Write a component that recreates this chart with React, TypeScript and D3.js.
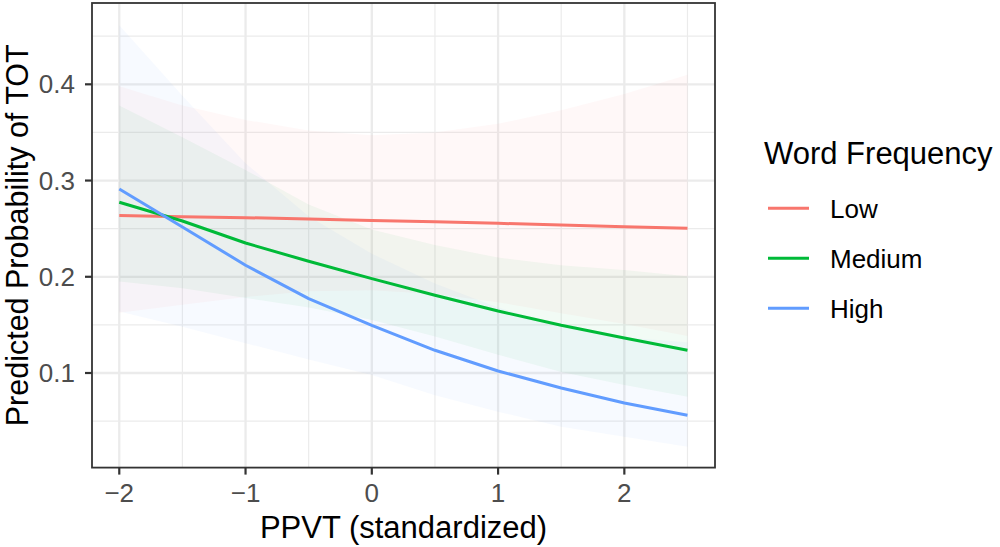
import React from "react";
import * as d3 from "d3";

// ---- data ----
const ppvt = [-2, -1.5, -1, -0.5, 0, 0.5, 1, 1.5, 2, 2.5];

const lowFit = [0.2636, 0.2625, 0.2614, 0.26, 0.2586, 0.2571, 0.2555, 0.2538, 0.2521, 0.2504];
const lowUpper = [0.398, 0.378, 0.363, 0.352, 0.347, 0.35, 0.359, 0.373, 0.39, 0.41];
const lowLower = [0.1625, 0.171, 0.179, 0.185, 0.186, 0.182, 0.1735, 0.162, 0.151, 0.1385];

const mediumFit = [0.2774, 0.258, 0.2351, 0.2161, 0.1981, 0.1808, 0.1644, 0.1496, 0.1364, 0.1236];
const mediumUpper = [0.378, 0.345, 0.311, 0.275, 0.249, 0.233, 0.22, 0.212, 0.207, 0.2005];
const mediumLower = [0.195, 0.188, 0.178, 0.168, 0.155, 0.138, 0.119, 0.101, 0.0875, 0.0754];

const highFit = [0.2913, 0.2518, 0.212, 0.1773, 0.1496, 0.1236, 0.1021, 0.0844, 0.0688, 0.056];
const highUpper = [0.4615, 0.388, 0.318, 0.263, 0.224, 0.193, 0.168, 0.149, 0.137, 0.132];
const highLower = [0.164, 0.148, 0.131, 0.114, 0.098, 0.077, 0.0598, 0.0442, 0.0338, 0.0234];

const groupNames = ["Low", "Medium", "High"];
const groupColors = ["#F8766D", "#00BA38", "#619CFF"];

const xTicks = [-2, -1, 0, 1, 2];
const xMinor = [-1.5, -0.5, 0.5, 1.5, 2.5];
const yTicks = [0.1, 0.2, 0.3, 0.4];
const yMinor = [0.05, 0.15, 0.25, 0.35, 0.45];

const xTitle = "PPVT (standardized)";
const yTitle = "Predicted Probability of TOT";
const legendTitle = "Word Frequency";

const series = [
  { name: groupNames[0], color: groupColors[0], fit: lowFit, upper: lowUpper, lower: lowLower },
  { name: groupNames[1], color: groupColors[1], fit: mediumFit, upper: mediumUpper, lower: mediumLower },
  { name: groupNames[2], color: groupColors[2], fit: highFit, upper: highUpper, lower: highLower },
];

const FONT = "'Liberation Sans', Arial, Helvetica, sans-serif";

export default function App() {
  const W = 1000;
  const H = 547;
  const panel = { left: 92, right: 715, top: 3, bottom: 467.6 };

  const x = d3.scaleLinear().domain([-2.216, 2.718]).range([panel.left, panel.right]);
  const y = d3.scaleLinear().domain([0.0017, 0.4845]).range([panel.bottom, panel.top]);

  const fmtX = (v: number) => (v < 0 ? "\u2212" + Math.abs(v) : String(v));

  return (
    <svg
      width={W}
      height={H}
      viewBox={`0 0 ${W} ${H}`}
      style={{ position: "absolute", left: 0, top: 0, display: "block" }}
    >
      <rect x={0} y={0} width={W} height={H} fill="#FFFFFF" />
      <defs>
        <clipPath id="panelClip">
          <rect x={panel.left} y={panel.top} width={panel.right - panel.left} height={panel.bottom - panel.top} />
        </clipPath>
      </defs>
      <g clipPath="url(#panelClip)">
        {/* minor grid */}
        {xMinor.map((v) => (
          <line key={"xm" + v} x1={x(v)} x2={x(v)} y1={panel.top} y2={panel.bottom} stroke="#EBEBEB" strokeWidth={1.2} />
        ))}
        {yMinor.map((v) => (
          <line key={"ym" + v} x1={panel.left} x2={panel.right} y1={y(v)} y2={y(v)} stroke="#EBEBEB" strokeWidth={1.2} />
        ))}
        {/* major grid */}
        {xTicks.map((v) => (
          <line key={"xM" + v} x1={x(v)} x2={x(v)} y1={panel.top} y2={panel.bottom} stroke="#EBEBEB" strokeWidth={2.3} />
        ))}
        {yTicks.map((v) => (
          <line key={"yM" + v} x1={panel.left} x2={panel.right} y1={y(v)} y2={y(v)} stroke="#EBEBEB" strokeWidth={2.3} />
        ))}
        {/* ribbons */}
        {series.map((s) => {
          const a = d3
            .area<number>()
            .x((_, i) => x(ppvt[i]))
            .y0((_, i) => y(s.lower[i]))
            .y1((_, i) => y(s.upper[i]));
          return <path key={"rib" + s.name} d={a(s.fit) || ""} fill={s.color} fillOpacity={0.05} stroke="none" />;
        })}
        {/* lines */}
        {series.map((s) => {
          const l = d3
            .line<number>()
            .x((_, i) => x(ppvt[i]))
            .y((d) => y(d));
          return (
            <path
              key={"ln" + s.name}
              d={l(s.fit) || ""}
              fill="none"
              stroke={s.color}
              strokeWidth={3}
              strokeLinejoin="round"
              strokeLinecap="butt"
            />
          );
        })}
      </g>
      {/* panel border */}
      <rect
        x={panel.left}
        y={panel.top}
        width={panel.right - panel.left}
        height={panel.bottom - panel.top}
        fill="none"
        stroke="#333333"
        strokeWidth={1.8}
      />
      {/* x axis ticks */}
      {xTicks.map((v) => (
        <g key={"xt" + v}>
          <line x1={x(v)} x2={x(v)} y1={panel.bottom} y2={panel.bottom + 7} stroke="#333333" strokeWidth={2.2} />
          <text x={x(v)} y={502} textAnchor="middle" fontFamily={FONT} fontSize={26} fill="#4D4D4D">
            {fmtX(v)}
          </text>
        </g>
      ))}
      {/* y axis ticks */}
      {yTicks.map((v) => (
        <g key={"yt" + v}>
          <line x1={panel.left - 7} x2={panel.left} y1={y(v)} y2={y(v)} stroke="#333333" strokeWidth={2.2} />
          <text
            x={panel.left - 17}
            y={y(v)}
            dy="0.35em"
            textAnchor="end"
            fontFamily={FONT}
            fontSize={26}
            fill="#4D4D4D"
          >
            {d3.format(".1f")(v)}
          </text>
        </g>
      ))}
      {/* axis titles */}
      <text
        x={(panel.left + panel.right) / 2}
        y={538}
        textAnchor="middle"
        fontFamily={FONT}
        fontSize={31}
        fill="#000000"
      >
        {xTitle}
      </text>
      <text
        transform={`translate(27.5, ${(panel.top + panel.bottom) / 2}) rotate(-90)`}
        textAnchor="middle"
        fontFamily={FONT}
        fontSize={30.5}
        fill="#000000"
      >
        {yTitle}
      </text>
      {/* legend */}
      <text x={764} y={163.5} fontFamily={FONT} fontSize={31} fill="#000000">
        {legendTitle}
      </text>
      {series.map((s, i) => {
        const cy = 208.3 + i * 50;
        return (
          <g key={"lg" + s.name}>
            <line x1={768} x2={809} y1={cy} y2={cy} stroke={s.color} strokeWidth={3} />
            <text x={830} y={cy + 9.4} fontFamily={FONT} fontSize={26} fill="#000000">
              {s.name}
            </text>
          </g>
        );
      })}
    </svg>
  );
}
